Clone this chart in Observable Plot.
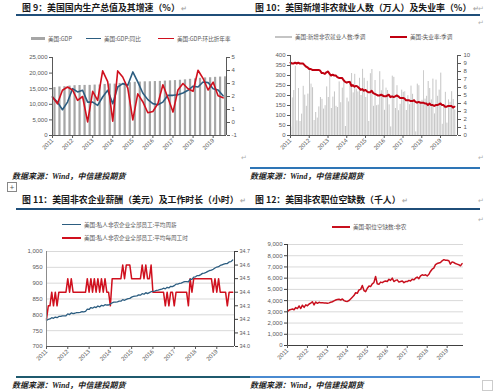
<!DOCTYPE html>
<html><head><meta charset="utf-8">
<script src="https://cdn.jsdelivr.net/npm/d3@7"></script>
<script src="https://cdn.jsdelivr.net/npm/@observablehq/plot@0.6"></script>
<style>
body{margin:0;width:500px;height:392px;background:#fff;position:relative;overflow:hidden;font-family:"Noto Sans CJK SC",sans-serif;}
.abs{position:absolute;}
.title{font-weight:bold;font-size:8.9px;line-height:12px;color:#1a1a1a;white-space:nowrap;}
.rule{height:2px;background:#1f4e79;}
.src{font-family:"Liberation Serif","Noto Sans CJK SC",serif;font-weight:bold;font-style:italic;font-size:8px;line-height:12px;color:#222;white-space:nowrap;}
.leg{font-size:5.6px;line-height:8px;color:#595959;white-space:nowrap;}
.sw{position:absolute;}
.ret{color:#b0b0b0;font-size:7px;line-height:10px;}
</style></head>
<body>
<script>
// ---------- shared ----------
const years = ["2011","2012","2013","2014","2015","2016","2017","2018","2019"];

// ---------- Figure 9: GDP ----------
const gdpLevel = [15351,15558,15648,15842, 15962,16026,16053,16064, 16170,16187,16363,16509,
  16460,16689,16827,16918, 17048,17136,17206,17231, 17294,17341,17439,17520,
  17596,17708,17840,18005, 18141,18323,18456,18514, 18642,18730,18806];
const gdpYoY = [1.96,1.57,0.98,1.57, 2.60,2.35,2.48,1.57, 1.57,1.32,1.96,2.48,
  1.45,2.73,2.99,2.86, 3.89,3.12,2.27,1.76, 1.45,1.37,1.57,2.09,
  2.09,2.14,2.27,2.48, 2.79,2.73,3.12,3.07, 2.60,2.50,2.05];
const gdpQoQ = [1.96,1.44,2.48,2.73, 2.50,1.70,2.00,0.05, 2.40,1.70,3.97,3.15,
  0.10,3.97,3.50,2.65, 0.20,2.20,1.60,0.75, 0.85,1.45,2.90,1.90,
  0.80,2.50,3.00,2.60, 2.40,4.02,3.40,2.50, 3.10,2.05,1.90];
const gdpLeftTicks = [0,5000,10000,15000,20000,25000];
const gdpRightTicks = [-1,0,1,2,3,4,5];

// ---------- Figure 10: payrolls & unemployment ----------
const nfp = [42,188,225,346,73,235,70,107,246,202,146,207,
  338,257,239,75,115,87,143,190,181,132,149,243,
  190,311,135,192,218,146,140,268,164,237,274,45,
  187,168,272,310,213,306,232,218,286,200,331,286,
  190,271,70,309,330,146,275,149,152,319,224,278,
  126,237,225,153,43,297,291,135,249,124,156,227,
  216,219,125,199,154,247,206,180,18,257,249,168,
  176,324,182,196,270,235,178,282,108,277,196,227,
  312,56,153,216,62,178,166,219,180,128];
const unemp = [9.1,9.0,9.0,9.1,9.0,9.1,9.0,9.0,9.0,8.8,8.6,8.5,
  8.3,8.3,8.2,8.2,8.2,8.2,8.2,8.1,7.8,7.8,7.7,7.9,
  8.0,7.7,7.5,7.6,7.5,7.5,7.3,7.2,7.2,7.2,6.9,6.7,
  6.6,6.7,6.7,6.2,6.3,6.1,6.2,6.1,5.9,5.7,5.8,5.6,
  5.7,5.5,5.4,5.4,5.6,5.3,5.2,5.1,5.0,5.0,5.1,5.0,
  4.9,4.9,5.0,5.1,4.8,4.9,4.8,4.9,5.0,4.9,4.7,4.7,
  4.7,4.6,4.4,4.4,4.4,4.3,4.3,4.4,4.2,4.1,4.2,4.1,
  4.1,4.1,4.0,4.0,3.8,4.0,3.8,3.8,3.7,3.8,3.8,3.9,
  4.0,3.8,3.8,3.6,3.6,3.7,3.7,3.7,3.5,3.6];
const nfpLeftTicks = [0,50,100,150,200,250,300,350,400];
const unempRightTicks = [0,1,2,3,4,5,6,7,8,9,10];

// ---------- Figure 11: weekly earnings & hours ----------
const weeklyEarnings = [782,786,787,791,789,793,791,795,795,797,797,797,
  803,801,806,804,805,807,807,808,810,809,811,818,
  817,823,821,825,823,828,825,830,828,832,831,831,
  834,838,840,840,841,843,843,848,846,849,851,852,
  856,858,859,860,863,862,867,865,870,867,870,873,
  874,875,877,878,880,881,884,882,887,885,890,889,
  892,897,897,899,900,903,905,905,904,913,912,919,
  920,924,924,927,931,932,934,937,940,941,944,948,
  951,952,956,958,960,962,962,967,968,973];
const weeklyHours = [34.2,34.3,34.3,34.4,34.3,34.4,34.3,34.4,34.4,34.4,34.4,34.4,
  34.5,34.4,34.5,34.4,34.4,34.4,34.4,34.4,34.4,34.4,34.4,34.5,
  34.4,34.5,34.4,34.5,34.4,34.5,34.4,34.5,34.4,34.5,34.4,34.4,
  34.3,34.5,34.5,34.5,34.5,34.5,34.5,34.6,34.5,34.6,34.6,34.6,
  34.5,34.5,34.5,34.5,34.5,34.5,34.6,34.5,34.6,34.5,34.5,34.6,
  34.4,34.4,34.4,34.4,34.4,34.4,34.4,34.3,34.4,34.3,34.4,34.4,
  34.3,34.4,34.4,34.4,34.4,34.4,34.4,34.4,34.3,34.5,34.4,34.5,
  34.5,34.5,34.5,34.5,34.5,34.5,34.5,34.5,34.5,34.5,34.4,34.5,
  34.4,34.5,34.4,34.4,34.4,34.4,34.3,34.4,34.4,34.4];
const earnLeftTicks = [700,750,800,850,900,950,1000];
const hoursRightTicks = [34.0,34.1,34.2,34.3,34.4,34.5,34.6,34.7];

// ---------- Figure 12: job openings ----------
const jobOpenings = [3040,3160,3200,3250,3190,3380,3290,3520,3300,3590,3400,3620,
  3540,3700,3780,3900,3620,3880,3760,3850,3800,3820,3790,3780,
  3760,3800,3850,3900,3980,4050,4100,4120,4050,4150,4000,3950,
  3930,4010,4150,4300,4450,4700,4650,4950,5000,5350,4900,4800,
  5100,5300,5250,5500,5600,6150,5500,5450,5650,5600,5700,5750,
  5700,5900,5800,6000,5700,5800,5850,5650,5700,5750,5600,5700,
  5700,5800,5750,5900,5850,6000,6100,5950,6200,6300,6250,6300,
  6200,6350,6600,6800,6900,7200,7300,7350,7400,7550,7650,7600,
  7600,7550,7250,7450,7400,7300,7250,7200,7100,7300];
const jobLeftTicks = [0,1000,2000,3000,4000,5000,6000,7000,8000,9000];

// ---------- helpers ----------
const yearDates = years.map(y => new Date(Date.UTC(+y, 0, 1)));
const monthDate = i => new Date(Date.UTC(2011, i, 1));
const fmtYear = d => String(d.getUTCFullYear());
const baseStyle = {fontSize:"6px", fontFamily:"'Liberation Sans','Noto Sans CJK SC',sans-serif", color:"#595959", background:"transparent", overflow:"visible"};
const axisCol = "#595959";

function place(el, left, top, cls) {
  const d = document.createElement("div");
  d.className = "abs" + (cls ? " " + cls : "");
  d.style.left = left + "px"; d.style.top = top + "px";
  if (typeof el === "string") d.innerHTML = el; else d.appendChild(el);
  document.body.appendChild(d);
  return d;
}
function xAxisMarks(){
  return Plot.axisX(yearDates, {tickRotate:-45, tickFormat:fmtYear, tickSize:3, tickPadding:1, stroke:axisCol, fill:"#595959"});
}

// ===== Figure 9 =====
{
  const lo = gdpRightTicks[0], hi = gdpRightTicks[gdpRightTicks.length-1];
  const top = gdpLeftTicks[gdpLeftTicks.length-1];
  const r2l = r => (r - lo) / (hi - lo) * top;
  const l2r = v => v / top * (hi - lo) + lo;
  const q = gdpLevel.map((v,i) => ({date:new Date(Date.UTC(2011, 3*i, 1)), level:v, yoy:r2l(gdpYoY[i]), qoq:r2l(gdpQoQ[i])}));
  const xDom = [new Date(Date.UTC(2011,0,1)), new Date(Date.UTC(2019,8,1))];
  const p = Plot.plot({
    width:250, height:115, marginLeft:52, marginRight:24, marginTop:12, marginBottom:25,
    style:baseStyle,
    x:{type:"utc", domain:xDom, axis:null},
    y:{domain:[0, top], axis:null},
    marks:[
      Plot.rectY(q, {x:"date", y:"level", interval:d3.utcMonth.every(3), fill:"#a6a6a6", insetLeft:1.4, insetRight:1.4}),
      Plot.line(q, {x:"date", y:"yoy", stroke:"#2c5d80", strokeWidth:1.6}),
      Plot.line(q, {x:"date", y:"qoq", stroke:"#d0101e", strokeWidth:1.6}),
      Plot.ruleX([xDom[0]], {stroke:axisCol}),
      Plot.ruleX([xDom[1]], {stroke:axisCol}),
      Plot.ruleY([0], {stroke:axisCol}),
      Plot.axisY(gdpLeftTicks, {anchor:"left", tickFormat:d3.format(","), tickSize:3, tickPadding:2, stroke:axisCol, label:null}),
      Plot.axisY(gdpRightTicks.map(r2l), {anchor:"right", tickFormat:v => String(Math.round(l2r(v))), tickSize:3, tickPadding:2, stroke:axisCol, label:null}),
      xAxisMarks()
    ]
  });
  place(p, 0, 45);
}

// ===== Figure 10 =====
{
  const top = nfpLeftTicks[nfpLeftTicks.length-1];
  const uHi = unempRightTicks[unempRightTicks.length-1];
  const u2l = u => u / uHi * top;
  const l2u = v => v / top * uHi;
  const m = nfp.map((v,i) => ({date:monthDate(i), nfp:v, u:u2l(unemp[i])}));
  const xDom = [new Date(Date.UTC(2011,0,1)), new Date(Date.UTC(2019,10,28))];
  const p = Plot.plot({
    width:250, height:117, marginLeft:40, marginRight:43, marginTop:12, marginBottom:25,
    style:baseStyle,
    x:{type:"utc", domain:xDom, axis:null},
    y:{domain:[0, top], axis:null},
    marks:[
      Plot.rectY(m, {x:"date", y:"nfp", interval:"month", fill:"#c4c4c4", insetLeft:0.25, insetRight:0.35}),
      Plot.line(m, {x:"date", y:"u", stroke:"#c00010", strokeWidth:2}),
      Plot.ruleX([xDom[0]], {stroke:axisCol}),
      Plot.ruleX([xDom[1]], {stroke:axisCol}),
      Plot.ruleY([0], {stroke:axisCol}),
      Plot.axisY(nfpLeftTicks, {anchor:"left", tickSize:3, tickPadding:2, stroke:axisCol, label:null}),
      Plot.axisY(unempRightTicks.map(u2l), {anchor:"right", tickFormat:v => String(Math.round(l2u(v))), tickSize:3, tickPadding:3, stroke:axisCol, label:null}),
      xAxisMarks()
    ]
  });
  place(p, 250, 43);
}

// ===== Figure 11 =====
{
  const lo = earnLeftTicks[0], hi = earnLeftTicks[earnLeftTicks.length-1];
  const hLo = hoursRightTicks[0], hHi = hoursRightTicks[hoursRightTicks.length-1];
  const h2l = h => lo + (h - hLo) / (hHi - hLo) * (hi - lo);
  const l2h = v => hLo + (v - lo) / (hi - lo) * (hHi - hLo);
  const m = weeklyEarnings.map((v,i) => ({date:monthDate(i), e:v, h:h2l(weeklyHours[i])}));
  const xDom = [new Date(Date.UTC(2011,0,1)), new Date(Date.UTC(2019,10,1))];
  const p = Plot.plot({
    width:250, height:132, marginLeft:46, marginRight:16, marginTop:12, marginBottom:25,
    style:baseStyle,
    x:{type:"utc", domain:xDom, axis:null},
    y:{domain:[lo, hi], axis:null},
    marks:[
      Plot.gridY(earnLeftTicks, {stroke:"#d9d9d9", strokeOpacity:1}),
      Plot.line(m, {x:"date", y:"h", stroke:"#d0101e", strokeWidth:1.5}),
      Plot.line(m, {x:"date", y:"e", stroke:"#2c5d80", strokeWidth:1.3}),
      Plot.ruleX([xDom[0]], {stroke:"#8c8c8c"}),
      Plot.ruleX([xDom[1]], {stroke:"#404040"}),
      Plot.ruleY([lo], {stroke:axisCol}),
      Plot.axisY(earnLeftTicks, {anchor:"left", tickFormat:d3.format(","), tickSize:0, tickPadding:4, label:null}),
      Plot.axisY(hoursRightTicks.map(h2l), {anchor:"right", tickFormat:v => l2h(v).toFixed(1), tickSize:3, tickPadding:2, fontSize:5.4, stroke:"#404040", label:null}),
      xAxisMarks()
    ]
  });
  place(p, 0, 239);
}

// ===== Figure 12 =====
{
  const top = jobLeftTicks[jobLeftTicks.length-1];
  const m = jobOpenings.map((v,i) => ({date:monthDate(i), v}));
  const xDom = [new Date(Date.UTC(2011,0,1)), new Date(Date.UTC(2019,9,27))];
  const p = Plot.plot({
    width:250, height:138, marginLeft:37, marginRight:37, marginTop:12, marginBottom:25,
    style:baseStyle,
    x:{type:"utc", domain:xDom, axis:null},
    y:{domain:[0, top], axis:null},
    marks:[
      Plot.gridY(jobLeftTicks, {stroke:"#d9d9d9", strokeOpacity:1}),
      Plot.line(m, {x:"date", y:"v", stroke:"#c8101e", strokeWidth:1.5}),
      Plot.ruleX([xDom[0]], {stroke:"#404040"}),
      Plot.ruleY([0], {stroke:"#404040"}),
      Plot.axisY(jobLeftTicks, {anchor:"left", tickFormat:d3.format(","), tickSize:3, tickPadding:2, stroke:"#404040", label:null}),
      xAxisMarks()
    ]
  });
  place(p, 250, 232);
}

// ===== titles, rules, legends, sources =====
place('图 9：美国国内生产总值及其增速（%）<span class="ret"> ↵</span>', 22, 2, "title");
place('图 10：美国新增非农就业人数（万人）及失业率（%）<span class="ret"> ↵</span>', 255, 2, "title");
place('图 11：美国非农企业薪酬（美元）及工作时长（小时）<span class="ret"> ↵</span>', 22, 194, "title");
place('图 12：美国非农职位空缺数（千人）<span class="ret"> ↵</span>', 255, 194, "title");
place('↵', 478, 3, "ret"); place('↵', 478, 17, "ret");
place('↵', 478, 195, "ret"); place('↵', 478, 214, "ret");
place('↵', 241, 152, "ret"); place('↵', 478, 152, "ret");

const r1 = place('', 16, 14, "rule"); r1.style.width = "234px";
const r2 = place('', 250, 14, "rule"); r2.style.width = "230px";
const r3 = place('', 16, 208, "rule"); r3.style.width = "234px";
const r4 = place('', 250, 208, "rule"); r4.style.width = "230px";
const r5 = place('', 250, 167, "rule"); r5.style.width = "230px"; r5.style.background = "#2e75b6";
const r6 = place('', 16, 376, "rule"); r6.style.width = "234px"; r6.style.background = "#1f5a6e";
const r7 = place('', 250, 376, "rule"); r7.style.width = "230px"; r7.style.background = "#4a8ad0";

function legendItem(x, y, swW, swH, color, text){
  const s = place('', x, y - swH/2, "sw"); s.style.width = swW + "px"; s.style.height = swH + "px"; s.style.background = color;
  place(text, x + swW + 3, y - 4, "leg");
}
legendItem(31, 38.5, 14, 3, "#a6a6a6", "美国:GDP");
legendItem(86, 38.5, 15, 1.6, "#2c5d80", "美国:GDP:同比");
legendItem(158, 38.5, 16, 1.6, "#d0101e", "美国:GDP:环比折年率");
legendItem(275, 37, 17, 2, "#c4c4c4", "美国:新增非农就业人数:季调");
legendItem(390, 37, 17, 2, "#c00010", "美国:失业率:季调");
legendItem(62, 224.5, 19, 1.6, "#2c5d80", "美国:私人非农企业全部员工:平均周薪");
legendItem(62, 238, 19, 1.6, "#d0101e", "美国:私人非农企业全部员工:平均每周工时");
legendItem(332, 227, 18, 1.6, "#c8101e", "美国:职位空缺数:非农");

place('数据来源：Wind，中信建投期货', 12, 171, "src");
place('数据来源：Wind，中信建投期货', 250, 171, "src");
place('数据来源：Wind，中信建投期货', 12, 380, "src");
place('数据来源：Wind，中信建投期货', 250, 380, "src");
const hb = place('+', 7, 182, ""); hb.style.cssText += "width:8px;height:8px;border:1px solid #888;font-size:8px;line-height:8px;text-align:center;color:#555;";
const sq = place('', 482, 380, ""); sq.style.cssText += "width:9px;height:9px;border:1px solid #ccc;";
</script>
</body></html>
